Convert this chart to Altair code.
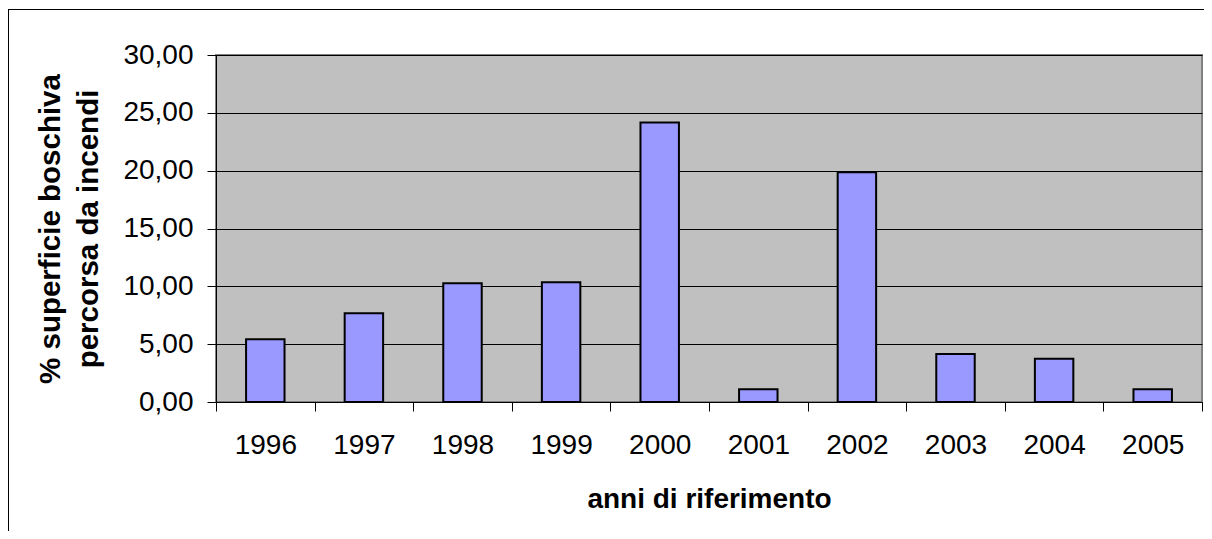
import altair as alt
import pandas as pd

years = ["1996", "1997", "1998", "1999", "2000", "2001", "2002", "2003", "2004", "2005"]
values = [5.42, 7.67, 10.27, 10.35, 24.16, 1.10, 19.87, 4.15, 3.75, 1.10]
y_ticks = [0, 5, 10, 15, 20, 25, 30]

df = pd.DataFrame({"anno": years, "valore": values})
one = pd.DataFrame({"k": [0]})

W, H = 986, 347

bars = alt.Chart(df).mark_bar(
    width=alt.RelativeBandSize(0.39), color="#9999FF", stroke="#000000", strokeWidth=2
).encode(
    x=alt.X("anno:N", sort=years, scale=alt.Scale(paddingInner=0, paddingOuter=0),
            axis=alt.Axis(title="anni di riferimento", labelAngle=0, tickBand="extent",
                          tickSize=9, labelPadding=20, labelFontSize=28, labelColor="#000000",
                          titleFontSize=28, titleFontWeight="bold", titleColor="#000000",
                          titleY=105, titleBaseline="alphabetic", titleX=W / 2,
                          domainColor="#000000", tickColor="#000000", grid=False)),
    y=alt.Y("valore:Q", scale=alt.Scale(domain=[0, 30], nice=False),
            axis=alt.Axis(title=["% superficie boschiva", "percorsa da incendi"],
                          values=y_ticks,
                          labelExpr="replace(format(datum.value, '.2f'), '.', ',')",
                          tickSize=9, labelPadding=14, labelFontSize=28, labelColor="#000000",
                          titleFontSize=29.5, titleFontWeight="bold", titleColor="#000000",
                          titleAngle=-90, titleX=-166, titleY=H / 2, titleAlign="center",
                          titleBaseline="middle", titleLineHeight=38,
                          grid=True, gridColor="#000000", gridWidth=1,
                          domainColor="#000000", tickColor="#000000")),
)

frame_top = alt.Chart(one).mark_rule(color="#000000", strokeWidth=1).encode(
    x=alt.value(-208), x2=alt.value(W + 20), y=alt.value(-45.5)
)
frame_left = alt.Chart(one).mark_rule(color="#000000", strokeWidth=1).encode(
    x=alt.value(-207.5), y=alt.value(-46), y2=alt.value(H + 200)
)

chart = alt.layer(bars, frame_top, frame_left).properties(
    width=W, height=H,
    autosize=alt.AutoSizeParams(type="none"),
    padding={"left": 208, "top": 47, "right": 2, "bottom": 129},
).configure(
    font="Liberation Sans", background="#FFFFFF"
).configure_view(
    fill="#C0C0C0", stroke="#808080", strokeWidth=2
)

chart.save("out.html", embed_options={"renderer": "svg", "actions": False})
